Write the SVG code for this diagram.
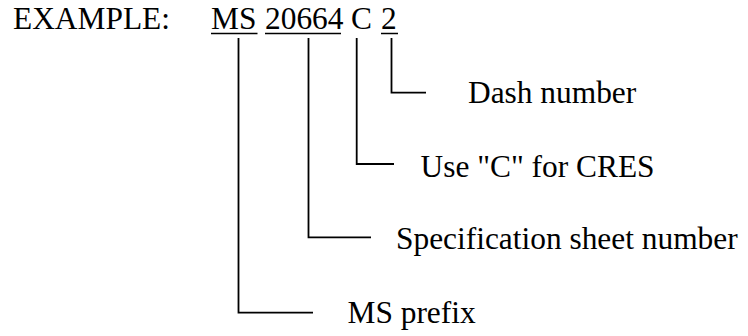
<svg xmlns="http://www.w3.org/2000/svg" width="748" height="336" viewBox="0 0 748 336">
<style>
text{font-family:'Liberation Serif',serif;font-size:31.4px;fill:#000}
.ln{stroke:#000;stroke-width:1.8;fill:none}
.ul{stroke:#000;stroke-width:1.5}
</style>
<rect width="748" height="336" fill="#fff"/>
<g id="example" font-family="Liberation Serif, serif">
<text x="13" y="29">EXAMPLE:</text>
<text x="211" y="29">MS</text>
<text x="265" y="29">20664</text>
<text x="351" y="29">C</text>
<text x="381" y="29">2</text>
<line class="ul" x1="211" y1="33.5" x2="257.5" y2="33.5"/>
<line class="ul" x1="265" y1="33.5" x2="341" y2="33.5"/>
<line class="ul" x1="381" y1="33.5" x2="398" y2="33.5"/>
</g>
<g id="connectors">
<path class="ln" d="M391.5,38 V92.7 H426"/>
<path class="ln" d="M356.7,38 V164 H394"/>
<path class="ln" d="M308.5,38 V237.3 H371"/>
<path class="ln" d="M238.5,38 V312.7 H313"/>
</g>
<g id="dash" font-family="Liberation Serif, serif"><text x="468" y="102.7">Dash number</text></g>
<g id="cres" font-family="Liberation Serif, serif"><text x="420.5" y="176.7">Use "C" for CRES</text></g>
<g id="spec" font-family="Liberation Serif, serif"><text x="396" y="249.3">Specification sheet number</text></g>
<g id="prefix" font-family="Liberation Serif, serif"><text x="347.5" y="323.3">MS prefix</text></g>
</svg>
